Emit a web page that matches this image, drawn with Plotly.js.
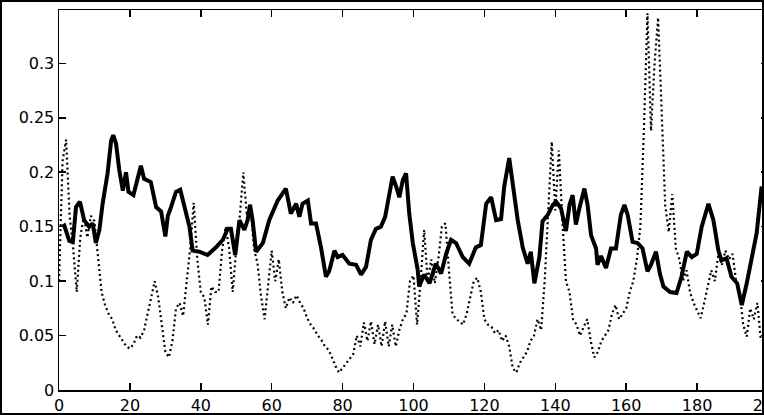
<!DOCTYPE html>
<html>
<head>
<meta charset="utf-8">
<script src="https://cdn.plot.ly/plotly-3.0.1.min.js"></script>
<style>
body { margin: 0; overflow: hidden; background: #fff; }
#graph { width: 770px; height: 415px; }
#frame { position: absolute; left: 0; top: 0; width: 764px; height: 415px; box-sizing: border-box; border: 2px solid #000; pointer-events: none; }
</style>
</head>
<body>
<div id="graph"></div>
<div id="frame"></div>
<script>
// solid series
var solidX = [1, 1.5, 2.9, 3.9, 4.8, 5.9, 7.1, 8.5, 9.5, 10.4, 11.4, 12.3, 13.7, 14.7, 15.3, 16.1, 17, 18, 18.9, 19.6,
  21, 22.2, 23.1, 24, 25.9, 27.4, 28.8, 30, 30.7, 31.6, 33, 34.2, 35.3, 36.8, 37.7, 39.6, 41.9, 44.3, 46.2, 47.6,
  48.5, 49.7, 50.9, 52.3, 53.2, 53.9, 54.6, 55.6, 57.5, 59.3, 61.7, 64, 65.4, 66.9, 67.8, 68.7, 70.2, 71.1, 72.5, 73.9,
  75.3, 76.2, 77.7, 78.6, 80, 81.9, 83.8, 85.2, 86.6, 88, 89.4, 90.8, 92, 93.2, 94.1, 95.1, 96, 97, 97.9, 98.8,
  99.8, 101.2, 101.6, 103, 104.5, 106.3, 107.8, 109.2, 110.6, 112, 113.9, 115.7, 117.6, 119, 120.5, 121.9, 123.3, 124.7, 125.6, 127,
  128, 129.4, 130.8, 132.2, 133.1, 134.1, 135.5, 136.4, 137.9, 139.3, 140.2, 141.6, 143, 144, 144.9, 145.8, 146.8, 148.2, 149.1, 150.1,
  151.5, 151.9, 152.9, 154.3, 155.7, 157.1, 158.5, 159.5, 160.4, 161.8, 163.2, 164.6, 166, 167, 168.4, 169.5, 170.5, 172.4, 174.2, 175.6,
  177.1, 178.5, 179.9, 181.3, 183.2, 184.6, 186, 186.9, 188.3, 189.7, 191.3, 192.6, 194, 195.4, 196.8, 198.2];
var solidY = [0.15, 0.151, 0.137, 0.136, 0.168, 0.173, 0.156, 0.15, 0.153, 0.135, 0.147, 0.171, 0.199, 0.229, 0.234, 0.226, 0.202, 0.183, 0.2, 0.182,
  0.179, 0.193, 0.206, 0.194, 0.191, 0.168, 0.164, 0.141, 0.16, 0.168, 0.182, 0.184, 0.168, 0.15, 0.128, 0.127, 0.124, 0.131, 0.138, 0.148,
  0.148, 0.124, 0.156, 0.147, 0.156, 0.17, 0.156, 0.127, 0.135, 0.156, 0.174, 0.185, 0.162, 0.171, 0.159, 0.171, 0.174, 0.153, 0.153, 0.131,
  0.104, 0.109, 0.128, 0.122, 0.124, 0.116, 0.115, 0.106, 0.113, 0.138, 0.148, 0.15, 0.159, 0.183, 0.196, 0.187, 0.177, 0.193, 0.199, 0.162,
  0.135, 0.11, 0.095, 0.106, 0.098, 0.116, 0.107, 0.125, 0.138, 0.135, 0.122, 0.116, 0.131, 0.133, 0.171, 0.177, 0.156, 0.157, 0.187, 0.213,
  0.187, 0.156, 0.131, 0.116, 0.127, 0.098, 0.122, 0.155, 0.161, 0.17, 0.173, 0.167, 0.146, 0.17, 0.179, 0.152, 0.167, 0.185, 0.17, 0.142,
  0.13, 0.115, 0.123, 0.112, 0.13, 0.13, 0.161, 0.17, 0.161, 0.136, 0.135, 0.13, 0.109, 0.115, 0.127, 0.107, 0.095, 0.09, 0.089, 0.104,
  0.127, 0.122, 0.125, 0.15, 0.171, 0.156, 0.128, 0.119, 0.121, 0.104, 0.098, 0.078, 0.098, 0.119, 0.144, 0.187];

// dotted series, one value per step from 0 to 198
var dotY = [0.10, 0.21, 0.23, 0.16, 0.13, 0.09, 0.14, 0.16, 0.14, 0.16,
  0.155, 0.125, 0.09, 0.078, 0.07, 0.065, 0.055, 0.05, 0.045, 0.04,
  0.038, 0.042, 0.05, 0.048, 0.055, 0.07, 0.088, 0.1, 0.085, 0.06,
  0.035, 0.03, 0.045, 0.075, 0.08, 0.068, 0.1, 0.13, 0.172, 0.12,
  0.09, 0.085, 0.06, 0.095, 0.09, 0.09, 0.128, 0.15, 0.13, 0.09,
  0.13, 0.16, 0.2, 0.16, 0.17, 0.13, 0.116, 0.086, 0.065, 0.1,
  0.128, 0.1, 0.12, 0.09, 0.075, 0.085, 0.08, 0.087, 0.08, 0.075,
  0.066, 0.06, 0.056, 0.05, 0.046, 0.04, 0.037, 0.03, 0.022, 0.016,
  0.02, 0.024, 0.028, 0.033, 0.05, 0.04, 0.062, 0.045, 0.063, 0.042,
  0.06, 0.04, 0.063, 0.04, 0.06, 0.04, 0.055, 0.065, 0.07, 0.1,
  0.105, 0.06, 0.1, 0.147, 0.1, 0.12, 0.098, 0.12, 0.15, 0.153,
  0.11, 0.07, 0.065, 0.063, 0.06, 0.07, 0.085, 0.1, 0.103, 0.09,
  0.065, 0.06, 0.058, 0.052, 0.055, 0.045, 0.05, 0.04, 0.02, 0.016,
  0.025, 0.03, 0.035, 0.045, 0.05, 0.065, 0.055, 0.1, 0.16, 0.228,
  0.165, 0.22, 0.155, 0.1, 0.09, 0.065, 0.06, 0.05, 0.058, 0.065,
  0.045, 0.03, 0.035, 0.045, 0.05, 0.055, 0.07, 0.078, 0.065, 0.07,
  0.075, 0.09, 0.1, 0.12, 0.15, 0.24, 0.346, 0.238, 0.3, 0.342,
  0.248, 0.17, 0.145, 0.18, 0.13, 0.12, 0.1, 0.11, 0.09, 0.08,
  0.073, 0.066, 0.08, 0.095, 0.11, 0.1, 0.125, 0.115, 0.128, 0.12,
  0.125, 0.1, 0.09, 0.06, 0.049, 0.075, 0.065, 0.08, 0.045];
var dotX = dotY.map(function(v, i) { return i; });

var xTicks = [0, 20, 40, 60, 80, 100, 120, 140, 160, 180, 200];
var yTicks = [0, 0.05, 0.1, 0.15, 0.2, 0.25, 0.3];
var yLabels = ['0', '0.05', '0.1', '0.15', '0.2', '0.25', '0.3'];

var solid = {
  x: solidX,
  y: solidY,
  mode: 'lines',
  type: 'scatter',
  line: { color: '#000', width: 4 }
};

var dotted = {
  x: dotX,
  y: dotY,
  mode: 'lines',
  type: 'scatter',
  line: { color: '#000', width: 2.2, dash: '2px,3px' }
};

var layout = {
  width: 770,
  height: 415,
  margin: { l: 59, r: 2, t: 10, b: 25 },
  paper_bgcolor: '#fff',
  plot_bgcolor: '#fff',
  showlegend: false,
  font: { family: 'DejaVu Sans', size: 16, color: '#000' },
  xaxis: {
    range: [0, 200],
    tickvals: xTicks,
    ticks: 'inside',
    ticklen: 7,
    tickwidth: 1.5,
    tickcolor: '#000',
    ticklabeloverflow: 'allow',
    showline: true,
    linecolor: '#000',
    linewidth: 1.5,
    mirror: 'ticks',
    showgrid: false,
    zeroline: false
  },
  yaxis: {
    range: [0, 0.349],
    tickvals: yTicks,
    ticktext: yLabels,
    ticks: 'inside',
    ticklen: 7,
    tickwidth: 1.5,
    tickcolor: '#000',
    showline: true,
    linecolor: '#000',
    linewidth: 1.5,
    mirror: 'ticks',
    showgrid: false,
    zeroline: false
  }
};

Plotly.newPlot('graph', [dotted, solid], layout, { staticPlot: true });
</script>
</body>
</html>
